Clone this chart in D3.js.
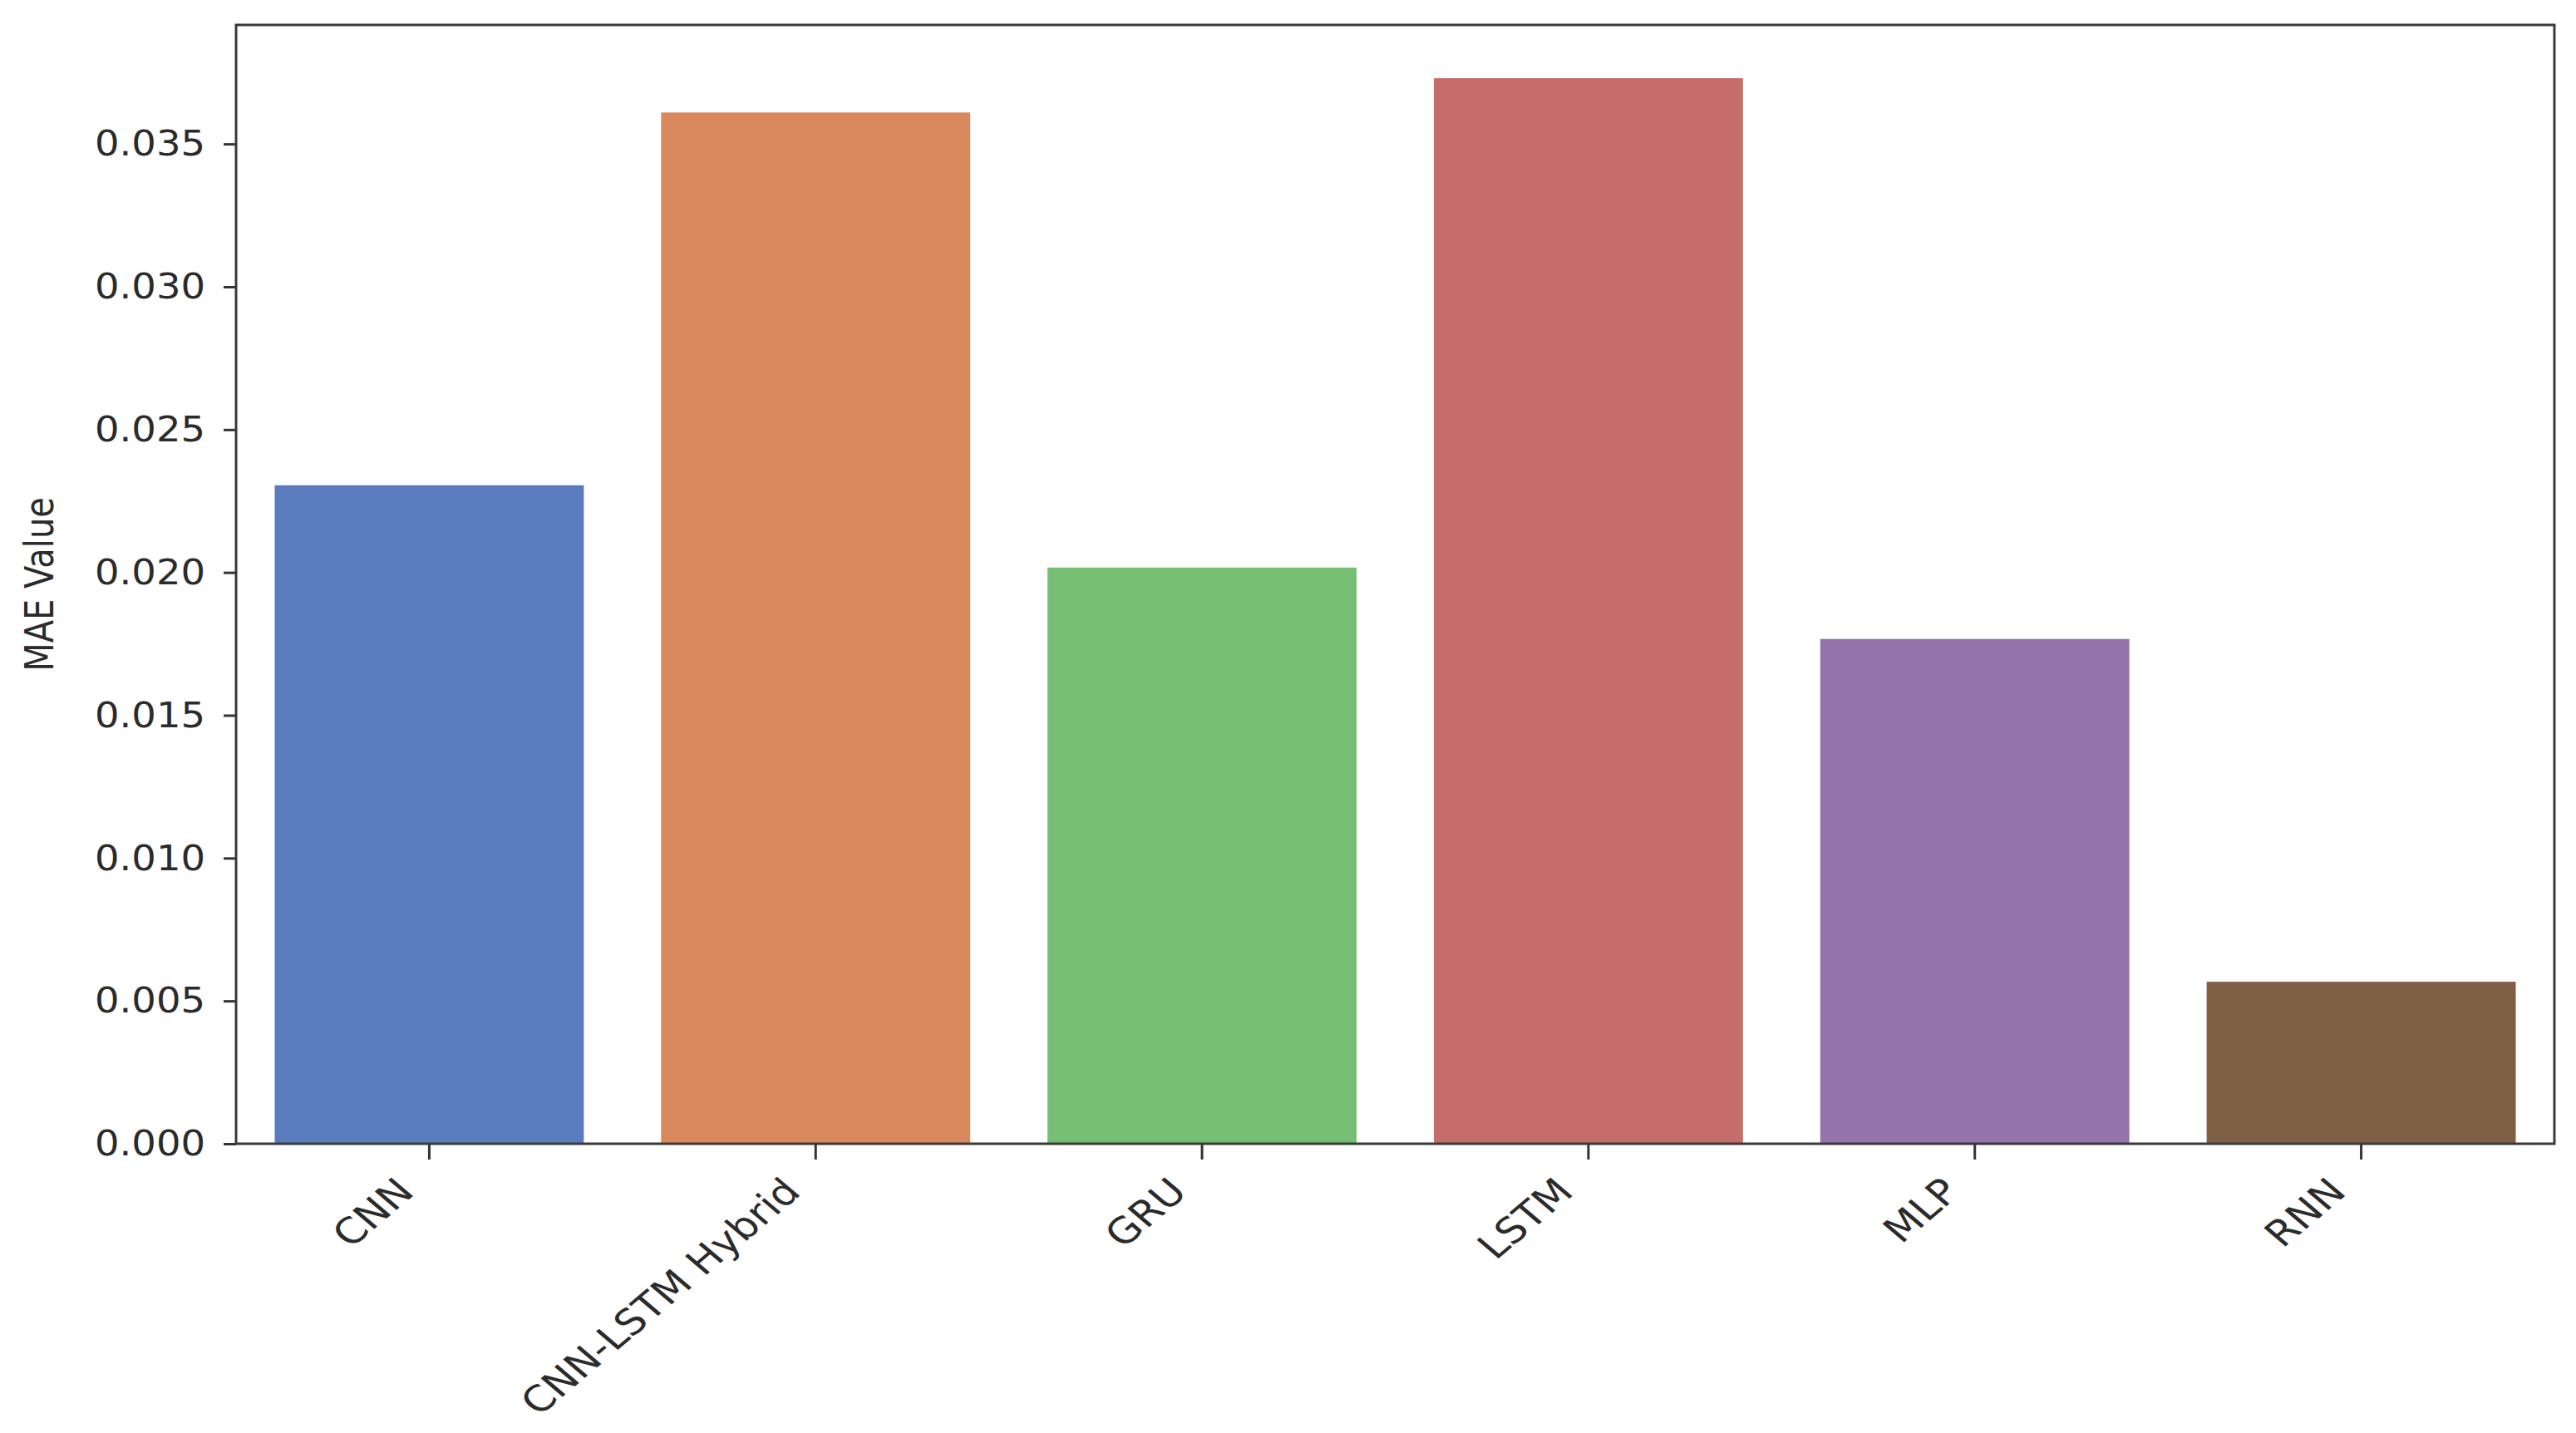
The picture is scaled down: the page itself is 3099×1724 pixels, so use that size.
<!DOCTYPE html>
<html>
<head>
<meta charset="utf-8">
<script src="https://cdn.jsdelivr.net/npm/d3@7"></script>
<style>
    body { margin: 0; background: #fff; }
    svg { display: block; }
</style>
</head>
<body>
<svg width="3099" height="1724"></svg>
<script>
const models = ['CNN', 'CNN-LSTM Hybrid', 'GRU', 'LSTM', 'MLP', 'RNN'];
const maeValues = [0.02305, 0.0361, 0.02017, 0.0373, 0.01767, 0.00567];
const barColors = ['#5a7bbe', '#d8895e', '#76bf72', '#c66d6c', '#9474ab', '#7f6045'];
const yTicks = [0, 0.005, 0.01, 0.015, 0.02, 0.025, 0.03, 0.035];

const svg = d3.select('svg');

const margin = {
    top: 30,
    bottom: 348,
    left: 284,
    right: 26
};

const width = +svg.attr('width') - margin.left - margin.right;
const height = +svg.attr('height') - margin.top - margin.bottom;

// the source picture is stretched a bit sideways, text follows that
const stretch = 1.18;
const yTickStretch = 1.08;

svg.append('rect')
    .attr('width', +svg.attr('width'))
    .attr('height', +svg.attr('height'))
    .attr('fill', '#fff');

const chart = svg
    .append('g')
    .attr('transform', `translate(${margin.left},${margin.top})`);

// scales
const xScale = d3
    .scaleBand()
    .domain(models)
    .range([0, width])
    .paddingInner(0.2)
    .paddingOuter(0.1);

const yScale = d3
    .scaleLinear()
    .domain([0, d3.max(maeValues) * 1.05])
    .range([height, 0]);

// bars
chart
    .append('g')
    .selectAll('rect')
    .data(maeValues)
    .enter()
    .append('rect')
    .attr('x', (d, i) => xScale(models[i]))
    .attr('y', d => yScale(d))
    .attr('width', xScale.bandwidth())
    .attr('height', d => height - yScale(d))
    .attr('fill', (d, i) => barColors[i]);

// y axis
const yAxis = chart
    .append('g')
    .call(d3.axisLeft(yScale)
        .tickValues(yTicks)
        .tickFormat(d3.format('.3f'))
        .tickSize(15)
        .tickPadding(0));

yAxis.select('.domain').remove();
yAxis.selectAll('.tick line')
    .attr('stroke', '#333')
    .attr('stroke-width', 3);
yAxis.selectAll('.tick text')
    .attr('fill', '#2b2b2b')
    .attr('x', 0)
    .attr('transform', `translate(-37,0) scale(${yTickStretch},1)`)
    .style('font-family', 'DejaVu Sans')
    .style('font-size', '43px');

// x axis
const xAxis = chart
    .append('g')
    .attr('transform', `translate(0,${height})`)
    .call(d3.axisBottom(xScale).tickSize(19).tickPadding(0));

xAxis.select('.domain').remove();
xAxis.selectAll('.tick line')
    .attr('stroke', '#333')
    .attr('stroke-width', 3);
xAxis.selectAll('.tick text')
    .attr('fill', '#2b2b2b')
    .style('font-family', 'DejaVu Sans')
    .style('font-size', '43px')
    .attr('text-anchor', 'end')
    .attr('dy', null)
    .attr('y', null)
    .attr('transform', `translate(-16,60) scale(${stretch},1) rotate(-45)`);

// frame (spines)
chart
    .append('rect')
    .attr('x', 0)
    .attr('y', 0)
    .attr('width', width)
    .attr('height', height)
    .attr('fill', 'none')
    .attr('stroke', '#3a3a3a')
    .attr('stroke-width', 3);

// y label
svg
    .append('text')
    .attr('transform', `translate(64,${margin.top + height / 2}) scale(${stretch},1) rotate(-90)`)
    .attr('text-anchor', 'middle')
    .attr('fill', '#2b2b2b')
    .style('font-family', 'DejaVu Sans')
    .style('font-size', '40px')
    .text('MAE Value');
</script>
</body>
</html>
